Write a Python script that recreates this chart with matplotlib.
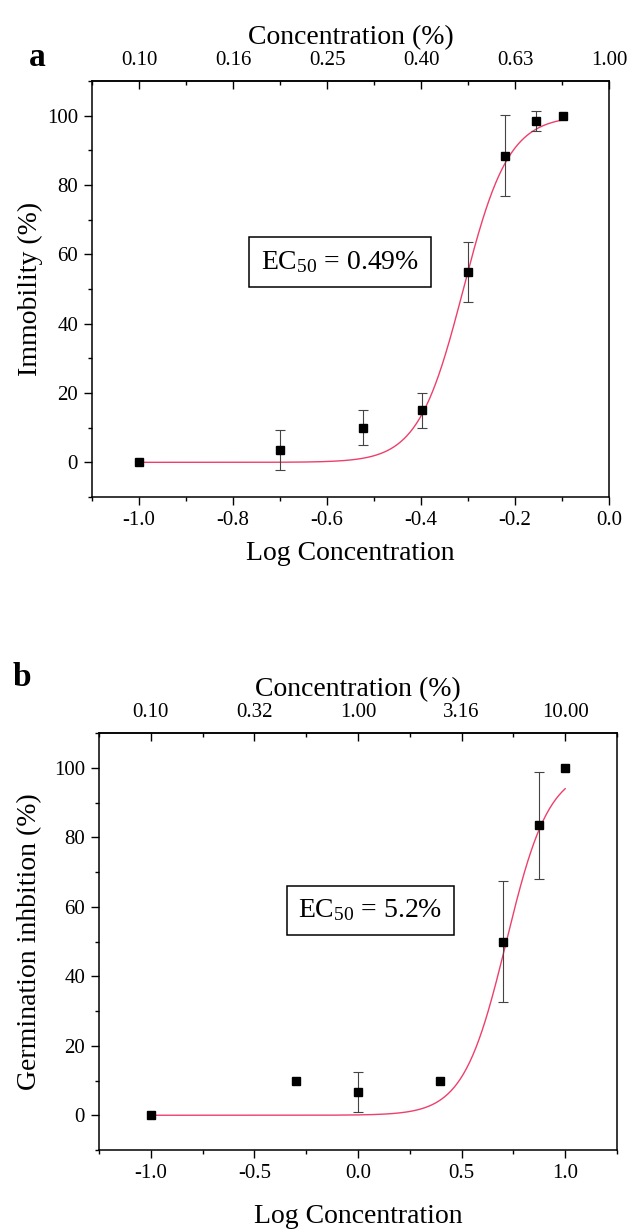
import numpy as np
import matplotlib
matplotlib.use("Agg")
import matplotlib.pyplot as plt
from matplotlib.ticker import MultipleLocator, FixedLocator

plt.rcParams['font.family'] = ['Liberation Serif', 'DejaVu Serif']
plt.rcParams['mathtext.default'] = 'regular'
plt.rcParams['axes.unicode_minus'] = False

# ---------------- Data: panel a ----------------
a_logc = [-1.0, -0.699, -0.523, -0.398, -0.301, -0.222, -0.155, -0.097]
a_resp = [0.0, 3.5, 10.0, 15.0, 55.0, 88.5, 98.5, 100.0]
a_err = [0.0, 5.8, 5.0, 5.0, 8.7, 11.6, 2.8, 0.0]
a_top_ticks = [-1.0, -0.8, -0.6, -0.4, -0.2, 0.0]
a_top_labels = ['0.10', '0.16', '0.25', '0.40', '0.63', '1.00']
a_bottom_ticks = [-1.0, -0.8, -0.6, -0.4, -0.2, 0.0]
a_bottom_labels = ['-1.0', '-0.8', '-0.6', '-0.4', '-0.2', '0.0']
a_ec50 = 0.49      # % (fit)
a_hill = 9.0       # fit slope
a_text = r'EC$_{50}$ = 0.49%'

# ---------------- Data: panel b ----------------
b_logc = [-1.0, -0.301, 0.0, 0.398, 0.699, 0.875, 1.0]
b_resp = [0.0, 10.0, 6.67, 10.0, 50.0, 83.5, 100.0]
b_err = [0.0, 0.0, 5.8, 0.0, 17.3, 15.4, 0.0]
b_top_ticks = [-1.0, -0.5, 0.0, 0.5, 1.0]
b_top_labels = ['0.10', '0.32', '1.00', '3.16', '10.00']
b_bottom_ticks = [-1.0, -0.5, 0.0, 0.5, 1.0]
b_bottom_labels = ['-1.0', '-0.5', '0.0', '0.5', '1.0']
b_ec50 = 5.2
b_hill = 4.2
b_text = r'EC$_{50}$ = 5.2%'

y_ticks = [0, 20, 40, 60, 80, 100]

CURVE = '#ee3f6c'
W, H = 630, 1229
fig = plt.figure(figsize=(W / 100, H / 100), dpi=100)
fig.patch.set_facecolor('white')


def logistic(x, ec50, p):
    return 100.0 / (1.0 + 10 ** ((np.log10(ec50) - x) * p))


def panel(rect, logc, resp, err, ec50, hill, xlim, xminor,
          bticks, blabels, tticks, tlabels, ylabel, text, textpos,
          ylab_x, xlabelpad):
    ax = fig.add_axes(rect)
    xs = np.linspace(min(logc), max(logc), 400)
    ax.plot(xs, logistic(xs, ec50, hill), color=CURVE, lw=1.0, zorder=2)
    errs = [e if e > 0 else np.nan for e in err]
    ax.errorbar(logc, resp, yerr=errs, fmt='none', ecolor='#444444',
                elinewidth=0.8, capsize=3.5, capthick=0.8, zorder=3)
    ax.plot(logc, resp, 's', color='black', ms=6, zorder=4)
    ax.set_xlim(*xlim)
    ax.set_ylim(-10, 110)
    ax.xaxis.set_major_locator(FixedLocator(bticks))
    ax.set_xticklabels(blabels)
    ax.xaxis.set_minor_locator(MultipleLocator(xminor))
    ax.set_yticks(y_ticks)
    ax.yaxis.set_minor_locator(MultipleLocator(10))
    ax.tick_params(axis='both', which='major', direction='out', length=6,
                   width=1.0, labelsize=15, pad=4)
    ax.tick_params(axis='both', which='minor', direction='out', length=3,
                   width=1.0)
    ax.tick_params(top=False, right=False, which='both')
    for s in ax.spines.values():
        s.set_linewidth(1.1)
    ax.set_xlabel('Log Concentration', fontsize=20, labelpad=xlabelpad)
    ax.set_ylabel(ylabel, fontsize=20)
    ax.yaxis.label.set_va('center')
    ax.yaxis.set_label_coords(ylab_x, 0.5)

    sec = ax.secondary_xaxis('top')
    sec.xaxis.set_major_locator(FixedLocator(tticks))
    sec.set_xticklabels(tlabels)
    sec.xaxis.set_minor_locator(MultipleLocator(xminor))
    sec.tick_params(which='major', direction='in', length=6, width=1.0,
                    labelsize=15, pad=8)
    sec.tick_params(which='minor', direction='in', length=3, width=1.0)
    sec.spines['top'].set_linewidth(1.1)
    sec.set_xlabel('Concentration (%)', fontsize=20, labelpad=5)

    ax.text(textpos[0], textpos[1], text, transform=ax.transAxes,
            fontsize=20, ha='center', va='center', zorder=5,
            bbox=dict(boxstyle='square,pad=0.42', fc='white', ec='black',
                      lw=1.1))
    return ax


panel([92 / W, 1 - 497 / H, 517 / W, 416 / H], a_logc, a_resp, a_err,
      a_ec50, a_hill, (-1.1, 0.0), 0.1, a_bottom_ticks, a_bottom_labels,
      a_top_ticks, a_top_labels, 'Immobility (%)', a_text, (0.48, 0.565),
      -0.12, 8)

panel([99 / W, 1 - 1150 / H, 518 / W, 417 / H], b_logc, b_resp, b_err,
      b_ec50, b_hill, (-1.25, 1.25), 0.25, b_bottom_ticks,
      b_bottom_labels, b_top_ticks, b_top_labels,
      'Germination inhbition (%)', b_text, (0.524, 0.574), -0.133, 15)

fig.text(37 / W, 1 - 57 / H, 'a', fontsize=24, fontweight='bold',
         ha='center', va='center')
fig.text(22 / W, 1 - 678 / H, 'b', fontsize=24, fontweight='bold',
         ha='center', va='center')

fig.savefig('out.png', dpi=100, facecolor='white')
